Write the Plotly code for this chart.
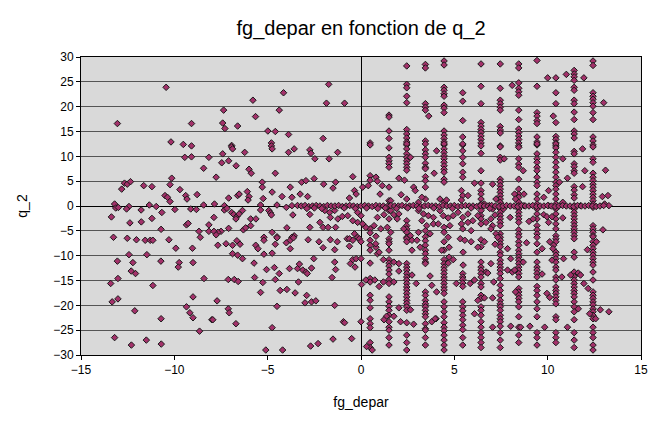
import plotly.graph_objects as go

# ---- data -----------------------------------------------------------------
# x positions of the vertical "columns" of points (fg_depar > 0)
col_x = [0.49, 1.5, 2.45, 3.45, 4.45, 5.45, 6.43, 7.46, 8.45, 9.43, 10.44, 11.42, 12.43]

col_0 = [12.7, 12.3, 6.1, 5.2, -4.6, -5.4, -6.9, -7.9, -8.9, -11.5, -14.6, -15.3, -17.97, -18.98,
         -20.5, -22.7, -23.7, -24.5, -27.5, -28.5]
col_1 = [18.3, 17.9, 15.1, 13.6, 11.7, 9.8, 9.1, 8.5, 7.8, 3.8, 1.07, -0.9, -2.6, -6.6, -7.2, -7.6,
         -8.9, -10.8, -11.5, -12.1, -12.9, -13.7, -14.8, -15.6, -18.3, -19.3, -20.2, -21.0, -22.0,
         -23.3, -24.4, -25.0, -26.5, -28.0]
col_2 = [28.2, 24.5, 23.8, 22.1, 20.8, 15.4, 14.5, 13.7, 12.9, 12.3, 12.5, 11.5, 10.5, 9.8, 9.1,
         8.5, 7.8, 7.2, 1.4, -2.96, -3.96, -4.6, -5.3, -6.3, -6.6, -7.2, -11.6, -12.3, -12.9,
         -13.6, -14.3, -14.9, -15.6, -16.3, -16.9, -17.6, -18.3, -19.0, -19.6, -20.3, -21.0,
         -23.5, -26.0, -27.5, -29.0]
col_3 = [28.5, 27.8, 20.6, 19.9, 19.3, 13.1, 12.5, 11.3, 10.5, 9.8, 8.6, 7.8, 7.5, 5.9, 5.1, 3.8,
         1.4, -4.96, -6.2, -7.0, -7.9, -8.9, -9.6, -10.6, -11.3, -11.6, -17.3, -18.0, -19.0,
         -19.7, -20.3, -21.0, -21.7, -22.3, -23.7, -24.7, -25.0, -26.5, -28.0]
col_4 = [29.2, 28.4, 23.9, 23.3, 22.6, 22.1, 20.3, 19.7, 18.8, 15.1, 14.3, 13.6, 12.9, 12.3, 12.5,
         11.5, 10.8, 10.1, 9.5, 8.8, 8.1, 7.4, 6.8, 5.4, 4.8, 0.74, -4.3, -5.3, -7.2, -8.9,
         -10.8, -11.6, -12.3, -12.9, -13.6, -14.3, -14.9, -15.6, -16.3, -16.9, -17.6, -19.3,
         -20.3, -21.3, -22.3, -23.5, -24.4, -25.1, -26.0, -27.0, -28.0, -29.0]
col_5 = [22.8, 21.1, 17.2, 13.9, 12.3, 12.5, 11.1, 9.8, 8.5, 6.8, 5.8, 2.1, -2.3, -4.6, -13.6,
         -14.3, -14.8, -15.5, -16.2, -19.3, -20.3, -21.1, -22.0, -22.9, -24.0, -24.9, -26.5, -28.0]
col_6 = [28.6, 24.1, 20.6, 16.8, 16.1, 15.4, 14.8, 14.1, 13.4, 12.7, 12.1, 10.6, 7.1, 4.6, 3.1,
         2.4, 1.4, 0.4, -0.27, -0.94, -1.95, -2.6, -3.6, -6.8, -8.2, -11.3, -12.3, -12.9, -13.6,
         -14.3, -15.6, -16.3, -17.97, -18.6, -20.3, -21.0, -22.0, -23.3, -24.4, -25.5, -26.5,
         -27.5, -28.5]
col_7 = [28.6, 23.7, 21.3, 20.6, 19.9, 19.3, 16.0, 15.3, 14.7, 12.1, 11.9, 9.8, 9.25, 5.4, 4.8,
         4.1, 3.4, 2.75, 2.08, 1.4, 0.74, 0.07, -0.6, -1.27, -1.95, -2.6, -3.3, -3.96, -5.6,
         -6.3, -6.9, -7.6, -8.2, -9.3, -9.9, -10.9, -11.6, -12.3, -12.9, -13.6, -14.6, -15.96,
         -17.0, -18.0, -19.0, -19.7, -20.3, -21.0, -22.0, -22.7, -23.3, -24.2, -25.5, -27.0, -28.5]
col_8 = [28.6, 27.8, 24.8, 23.7, 23.0, 22.3, 19.3, 17.4, 15.5, 14.8, 14.1, 13.4, 12.7, 12.1, 11.8,
         9.5, 8.45, 7.8, 5.4, 3.4, 2.4, 1.75, 0.74, 0.07, -0.6, -1.27, -1.95, -2.6, -3.3, -4.8,
         -5.6, -6.2, -7.2, -7.9, -8.9, -9.6, -10.3, -10.9, -11.6, -12.3, -12.9, -13.6, -14.3,
         -16.6, -17.3, -17.97, -18.6, -19.3, -20.3, -22.3, -24.4, -26.0, -27.5]
col_9 = [29.3, 24.1, 18.8, 18.1, 17.2, 16.6, 13.9, 12.9, 12.3, 12.5, 10.5, 9.5, 8.8, 7.8, 7.1,
         5.8, 4.8, 4.1, 2.4, 1.4, 0.4, -0.6, -1.6, -2.6, -3.96, -4.8, -5.6, -6.3, -7.6, -9.3,
         -11.3, -12.3, -12.9, -13.6, -14.3, -16.2, -17.0, -18.0, -19.3, -20.7, -22.3, -25.5,
         -26.5, -28.0]
col_10 = [25.8, 22.8, 20.6, 16.8, 14.0, 13.4, 12.7, 12.1, 12.5, 11.7, 10.8, 9.8, 8.8, 7.8, 6.8,
          5.8, 4.8, 4.1, 3.4, 2.4, 1.4, 0.4, -0.6, -1.6, -2.6, -3.6, -4.6, -5.97, -6.6, -7.2,
          -9.3, -9.9, -10.6, -11.3, -12.3, -12.9, -14.3, -14.9, -16.3, -17.0, -17.6, -18.3,
          -19.0, -19.7, -22.3, -22.9, -25.5, -26.5, -27.5]
col_11 = [27.3, 26.6, 26.0, 25.3, 23.9, 23.3, 21.3, 20.6, 18.9, 17.4, 15.1, 14.5, 13.7, 11.0,
          10.5, 8.5, 7.9, 7.1, 6.6, 3.9, 3.2, 2.27, 1.6, 0.07, -0.6, -1.27, -1.95, -2.6, -3.3,
          -3.96, -4.6, -5.3, -5.97, -6.6, -9.3, -10.3, -13.3, -14.2, -14.9, -15.6, -16.3, -17.0,
          -17.6, -18.3, -19.3, -20.3, -21.3, -22.9, -25.5, -27.0, -28.5]
col_12 = [29.2, 28.3, 22.8, 22.1, 21.5, 20.8, 20.1, 18.8, 17.4, 13.9, 13.1, 12.3, 11.9, 9.5, 8.8,
          6.6, 5.8, 5.1, 4.4, 3.8, 3.1, 2.4, 1.75, 1.07, 0.4, -0.27, -3.96, -4.6, -5.3, -5.97,
          -6.2, -7.2, -7.9, -8.6, -9.3, -9.9, -10.6, -11.3, -11.9, -13.3, -14.9, -17.3, -17.97,
          -18.6, -19.3, -19.9, -20.7, -21.3, -22.0, -22.7, -24.4, -25.5, -26.5, -28.0, -29.0]
col_q2 = [col_0, col_1, col_2, col_3, col_4, col_5, col_6, col_7, col_8, col_9, col_10, col_11, col_12]

# scattered points, fg_depar < 0
left_fg = [-10.44, -13.05, -9.08, -10.18, -9.52, -9.08, -1.73, -4.15, -5.79, -1.85, -0.88, -7.36,
           -4.38, -5.65, -7.41, -7.29, -6.61, -4.99, -4.59, -3.88, -2.03, -6.93, -4.80,
           -9.44, -9.08, -8.15, -8.43, -10.14, -10.23, -12.67, -12.52, -12.35, -12.82, -11.64,
           -11.2, -9.7, -10.5, -10.37, -9.39, -9.32, -8.78, -10.23, -13.2, -13.14, -13.0, -12.43,
           -12.56, -11.78, -11.34, -10.97, -10.67, -9.97, -9.12, -8.82, -8.43, -13.37, -12.38,
           -11.77, -11.2, -9.35, -9.26, -10.71, -8.15, -8.68, -8.15, -7.5,
           -13.26, -12.52, -12.03, -11.56, -11.29, -11.15, -10.29, -8.61, -9.92, -9.03, -12.43,
           -11.47, -13.05, -12.22, -10.72, -9.74, -9.79, -9.0, -12.31, -12.08, -13.02, -13.41,
           -11.15, -8.41, -13.02, -13.33, -9.0, -9.35, -9.17, -9.0, -12.12, -10.71, -7.99, -8.65,
           -13.2, -12.3, -11.5, -10.7]
left_q2 = [23.9, 16.6, 16.6, 12.9, 12.4, 12.1, 24.5, 22.8, 21.3, 20.7, 20.7, 19.3,
           19.3, 18.0, 16.7, 15.6, 16.1, 15.1, 15.0, 14.4, 13.6, 12.2, 12.7,
           9.8, 9.9, 9.8, 7.6, 5.6, 4.3, 4.6, 4.4, 4.9, 3.4, 4.1,
           3.9, 3.3, 2.1, 1.75, 2.1, 1.4, 2.3, 0.9, 0.4, -0.4, -0.3, -0.1,
           -0.6, -0.8, 0.2, -0.1, -1.3, -0.7, -0.6, -0.7, 0.2, -2.2, -3.4,
           -3.2, -2.5, -3.8, -3.5, -4.7, -3.8, -5.1, -5.1, -5.1,
           -6.3, -6.5, -6.8, -6.9, -6.9, -6.9, -6.8, -6.3, -8.5, -8.5, -9.8,
           -9.8, -11.1, -11.4, -11.1, -11.4, -12.3, -11.4, -13.1, -13.6, -14.6, -15.6,
           -16.0, -14.6, -18.7, -19.3, -18.3, -20.3, -21.5, -22.5, -21.1, -22.7, -22.9, -25.2,
           -26.5, -28.0, -27.0, -27.8]

mid_fg = [-6.93, -6.88, -6.23, -4.8, -4.76, -3.88, -3.58, -2.74, -2.68, -1.71, -1.25, -2.47,
          -7.41, -7.46, -7.09, -6.69, -6.0, -5.88, -7.76, -4.59, -5.29, -5.29, -3.79, -3.18,
          -2.95, -2.51, -2.0, -1.36, -1.5, -6.09, -6.0, -6.05, -6.61, -6.53, -7.09, -4.76,
          -5.24, -4.23, -3.7, -3.26, -2.86, -7.85, -7.32, -7.32, -7.18, -5.38, -5.38, -4.5,
          -4.0, -3.7, -6.93, -6.82, -6.65, -6.53, -6.7, -6.35, -7.88, -5.91, -5.63, -4.94,
          -4.85, -4.8, -3.65, -2.74, -1.94, -1.68, -1.41, -1.24, -1.64, -1.0, -2.2, -2.03,
          -1.76, -1.36, -7.67, -7.88, -7.76, -7.09, -6.3, -6.18, -5.91, -4.76, -5.2, -4.5,
          -3.97, -3.58, -3.7, -2.74,
          -7.67, -7.23, -6.88, -6.65, -6.48, -5.64, -5.52, -5.2, -4.59, -4.5, -4.0, -3.79,
          -3.62, -3.79, -2.83, -2.25, -2.03, -1.64, -1.41, -1.27, -6.88, -6.61, -6.35, -5.2,
          -4.76, -2.53, -5.73, -5.06, -4.64, -4.38, -3.83, -3.4, -3.3, -3.12, -2.95, -2.88,
          -2.65, -1.41, -1.36, -7.11, -6.79, -6.58, -5.7, -5.26, -4.59, -3.35, -1.55, -5.38,
          -4.33, -3.97, -3.53, -2.91, -7.71, -3.0, -2.65, -2.42, -7.11, -7.06, -4.5, -1.41,
          -7.94, -6.7, -4.76, -0.94, -5.1, -4.2, -2.7, -2.3, -1.5, -0.5]
mid_q2 = [11.9, 11.5, 10.8, 12.1, 11.5, 10.8, 11.5, 11.3, 10.6, 9.5, 10.8, 9.5,
          10.5, 8.7, 9.1, 8.1, 7.4, 6.6, 5.8, 6.6, 4.8, 3.8, 3.8, 4.8,
          5.1, 5.5, 4.4, 4.8, 3.6, 2.9, 1.9, 1.2, 2.1, 2.4, 1.6, 2.8,
          1.5, 1.9, 1.75, 2.4, 1.9, 0.4, 0.06, -0.8, -0.47, 0.2, -0.8, 0.2,
          -0.27, 0.07, -1.3, -1.7, -2.1, -1.6, -2.6, -0.9, -2.3, -2.6, -2.6, -0.9,
          -1.4, -1.8, -1.8, -1.7, -0.9, -1.3, -0.9, -2.6, -2.3, -2.1, -3.3, -4.3,
          -4.3, -4.3, -5.3, -5.1, -5.8, -4.5, -4.8, -4.4, -3.96, -5.3, -6.3, -6.2,
          -4.4, -6.0, -6.3, -4.3,
          -7.9, -7.6, -7.9, -7.0, -7.7, -7.9, -8.6, -6.9, -7.7, -6.4, -7.4, -6.9,
          -6.4, -8.6, -6.8, -7.2, -8.4, -6.8, -8.8, -7.2, -9.6, -9.9, -10.6, -9.7,
          -9.5, -10.6, -11.5, -12.8, -12.4, -13.6, -12.6, -12.6, -11.7, -12.9, -13.3, -13.6,
          -12.5, -11.3, -12.8, -14.8, -14.8, -15.2, -14.4, -15.4, -14.8, -15.3, -14.4, -17.4,
          -17.0, -16.8, -17.5, -18.0, -19.1, -19.5, -19.3, -19.1, -20.7, -21.5, -20.2, -20.0,
          -22.9, -23.7, -24.5, -23.3, -29.0, -29.0, -28.2, -27.7, -26.8, -26.7]

# scattered points, fg_depar > 0 (between the columns)
right_fg = [-0.44, 0.8, 0.88, 0.09, 0.39, 1.14, 1.02, 2.03, 2.33, 2.82, 2.91, 4.05, 3.92, 6.08,
            -0.62, -0.35, -0.26, 1.59, 2.15, 3.08, 3.26, 4.23, 4.58, 5.38, 5.38, 5.73, 2.65,
            -0.71, -0.44, -0.18, 0.0, 0.88, 1.23, -0.18, 0.09, 0.26, 0.7, 1.06, 1.41, 1.59, 1.76,
            2.03, 1.94, 2.29, 2.65, 3.08, 3.35, 3.61, 3.88, 3.26, 3.52, 3.88, 3.7, 3.08, 4.23,
            4.41, 4.67, 4.94, 4.14, 4.76, 4.67, 5.2, 5.73, 5.38, 5.73, 5.99, 6.26, 5.9, -0.35,
            -0.18, -0.74, 0.8, 1.59,
            -0.62, -0.44, -0.09, 0.0, -0.62, 0.8, 0.88, -0.44, -0.26, -0.57, -0.32, 0.0, 0.74,
            0.26, 0.03, 0.0, -0.88, 1.2, 1.76, 2.03, 2.03, 1.76, 1.2, 0.97, 1.37, 2.03, 1.76,
            1.23, 0.97, 0.79, 2.73, 2.73, 2.65, 2.12, 2.82, 2.73, 2.96, 3.17, 3.7, 3.79, 4.02,
            3.79, 3.0, 4.32, 4.72, 4.94, 4.67, 4.05, 3.97, 4.72, 5.32, 5.56, 5.9, 5.47, 5.11,
            5.47, 5.85, 6.08, 6.26, 6.08, 6.26,
            7.05, 6.61, 6.88, 7.05, 7.23, 7.18, 6.96, 6.7, 7.05, 7.23, 6.96, 7.32, 7.67, 7.63,
            7.99, 8.23, 8.73, 8.28, 8.73, 8.69, 9.0, 9.79, 10.05, 10.05, 9.79, 9.96, 10.23, 10.05,
            9.22, 10.81, 10.81, 10.81, 10.63, 11.06, 11.87, 11.99, 11.87, 11.76, 13.1, 12.93,
            13.23, 13.05, 13.28, 12.96,
            6.61, 6.96, 6.7, 7.11, 7.05, 6.61, 6.79, 7.05, 7.18, 7.85, 8.02, 7.85, 8.11, 8.02,
            8.69, 8.23, 8.28, 8.87, 8.55, 9.05, 9.7, 9.96, 10.11, 9.84, 9.7, 10.11, 10.32, 10.28,
            10.23, 10.85, 10.76, 11.06, 11.23, 11.64, 11.76, 11.64, 11.94, 12.17, 12.13, 12.61,
            12.25, 12.57, 12.82, 13.28,
            3.63, 10.0, 11.0, 11.94, 8.1, 13.0, 10.3, 0.3, 0.6]
right_q2 = [5.9, 5.8, 5.0, 3.8, 4.1, 4.1, 2.4, 5.6, 5.2, 3.8, 3.1, 11.1, 6.6, 4.6,
            1.6, 3.1, 2.4, 1.07, 2.27, 0.74, 1.75, 1.4, 1.2, 3.1, 1.2, 2.1, 9.8,
            -1.95, -2.96, -1.3, -1.95, -2.3, -1.75, -3.3, -3.6, -4.3, -3.96, -4.6, -4.3, -0.9, -1.75,
            -1.6, -2.6, -4.6, -5.97, -0.94, -1.6, -1.95, -2.3, -2.96, -3.96, -3.6, -5.6, -5.3, -0.94,
            -1.95, -2.4, -1.95, -3.6, -3.96, -6.3, -1.27, -1.6, -3.6, -3.3, -2.96, -1.95, -4.96, -5.6,
            -6.3, -6.6, -6.1, -5.3,
            -6.6, -6.9, -6.6, -7.2, -8.1, -8.3, -9.6, -10.8, -10.6, -11.6, -12.3, -10.6, -14.9,
            -14.9, -15.8, -23.3, -23.5, -10.8, -11.3, -11.6, -13.1, -15.3, -15.3, -16.2, -22.2, -20.5, -22.2,
            -22.9, -9.3, -7.6, -6.9, -8.9, -20.9, -23.3, -23.8, -13.9, -15.6, -8.3, -14.1, -15.97, -22.7,
            -23.3, -6.9, -8.9, -10.3, -10.8, -11.5, -17.3, -22.7, -8.3, -6.6, -6.9, -7.2, -9.3, -15.6,
            -11.9, -15.6, -14.9, -19.0, -21.7, -8.3,
            4.4, 0.4, 0.07, -0.6, 1.4, -1.8, -2.6, -3.3, -3.96, -5.6, -4.6, -6.3, 9.5, -0.6,
            -2.3, 2.4, 2.4, 1.4, 0.07, 7.1, -3.1, 1.75, 3.1, 0.07, -1.75, -2.16, -2.16, -3.3,
            -2.6, 9.5, 0.74, -2.4, 4.8, 5.6, 11.5, 7.1, 3.9, 0.07, 7.2, 1.9,
            2.1, 0.4, 0.07, -4.8,
            -7.2, -11.6, -13.3, -15.3, -18.5, -18.5, -13.5, -24.4, -7.7, -8.6, -10.6, -12.9, -13.3, -24.2,
            -11.3, -12.9, -17.3, -7.4, -24.4, -24.2, -8.6, -17.6, -18.4, -24.4, -13.7, -7.2, -7.9, -8.6,
            -10.9, -10.6, -14.3, -24.4, -13.9, -13.5, -13.9, -20.7, -15.6, -16.6, -8.8, -7.2,
            -21.7, -22.7, -20.9, -21.3,
            18.1, 25.8, 26.5, 25.8, 24.3, 20.8, 18.1, -28.3, -29.0]

# the dense band of points lying close to q_2 = 0
band_fg = [-3.4, -3.2, -3.0, -2.8, -2.6, -2.4, -2.2, -2.0, -1.8, -1.6, -1.4, -1.2, -1.0, -0.8,
           -0.6, -0.4, -0.2, 0.0, 0.2, 0.4, 0.6, 0.8, 1.0, 1.2, 1.4, 1.6, 1.8, 2.0, 2.2, 2.4,
           2.6, 2.8, 3.0, 3.2, 3.4, 3.6, 3.8, 4.0, 4.2, 4.4, 4.6, 4.8, 5.0, 5.2, 5.4, 5.6, 5.8,
           6.0, 6.2, 6.4, 6.6, 6.8, 7.0, 7.2, 7.4, 7.6, 7.8, 8.0, 8.2, 8.4, 8.6, 8.8, 9.0, 9.2,
           9.4, 9.6, 9.8, 10.0, 10.2, 10.4, 10.6, 10.8, 11.0, 11.2, 11.4, 11.6, 11.8, 12.0, 12.2,
           12.4, 12.6, 12.8, 13.0,
           -2.9, -2.5, -2.1, -0.9, -0.3, 0.3, 0.9, 1.3, 1.9, 2.5, 3.1, 3.9, 4.9, 5.9, 6.9]
band_q2 = [0.1, 0.0, 0.1, -0.1, 0.0, 0.1, 0.0, -0.1, 0.1, 0.0, 0.0, 0.1, -0.1, 0.0,
           0.1, 0.0, -0.1, 0.0, 0.1, 0.0, -0.1, 0.1, 0.0, 0.0, -0.1, 0.1, 0.0, 0.0, 0.1, -0.1,
           0.0, 0.1, 0.0, -0.1, 0.0, 0.1, 0.0, 0.0, -0.1, 0.1, 0.0, 0.0, 0.1, -0.1, 0.0, 0.1, 0.0,
           0.0, -0.1, 0.1, 0.0, 0.0, 0.1, 0.0, -0.1, 0.0, 0.1, 0.0, 0.0, -0.1, 0.1, 0.0, 0.0, 0.1,
           -0.1, 0.0, 0.0, 0.1, 0.0, -0.1, 0.0, 0.1, 0.0, 0.0, -0.1, 0.1, 0.0, 0.0, 0.1,
           0.0, -0.1, 0.0, 0.1,
           -0.5, -0.4, -0.5, -0.4, -0.5, -0.4, -0.5, -0.4, -0.5, -0.4, -0.5, -0.4, -0.5, -0.4, -0.5]

# ---- assemble ----------------------------------------------------------------
xs, ys = [], []
for cx, vals in zip(col_x, col_q2):
    xs += [cx] * len(vals)
    ys += vals
for fx, fy in ((left_fg, left_q2), (mid_fg, mid_q2), (right_fg, right_q2), (band_fg, band_q2)):
    xs += fx
    ys += fy

FONT = "Liberation Sans, Arial, sans-serif"

fig = go.Figure(go.Scatter(
    x=xs, y=ys, mode="markers",
    marker=dict(symbol="diamond", size=5, color="#a3316a",
                line=dict(color="#1a1a1a", width=1)),
    hoverinfo="x+y", showlegend=False,
))

fig.update_layout(
    width=655, height=427,
    margin=dict(l=81, r=7, t=57, b=72),
    paper_bgcolor="white", plot_bgcolor="#d9d9d9",
    font=dict(family=FONT, color="black", size=12),
    title=dict(text="fg_depar en fonction de q_2", x=0.5, xref="paper",
               y=0.935, yref="container", yanchor="middle",
               font=dict(family=FONT, size=20, color="black")),
)
fig.update_xaxes(
    range=[-15, 15], dtick=5, tick0=-15, showgrid=False,
    zeroline=True, zerolinecolor="black", zerolinewidth=1,
    showline=True, linecolor="black", linewidth=1, mirror=True,
    ticks="outside", ticklen=4, tickcolor="black",
    tickfont=dict(size=12),
    title=dict(text="fg_depar", font=dict(size=14), standoff=20),
)
fig.update_yaxes(
    range=[-30, 30], dtick=5, tick0=-30, showgrid=True, gridcolor="#555555", gridwidth=1,
    zeroline=True, zerolinecolor="black", zerolinewidth=1,
    showline=True, linecolor="black", linewidth=1, mirror=True,
    ticks="outside", ticklen=4, tickcolor="black",
    tickfont=dict(size=12),
    title=dict(text="q_2", font=dict(size=14), standoff=22),
)

fig.write_html("out.html")
